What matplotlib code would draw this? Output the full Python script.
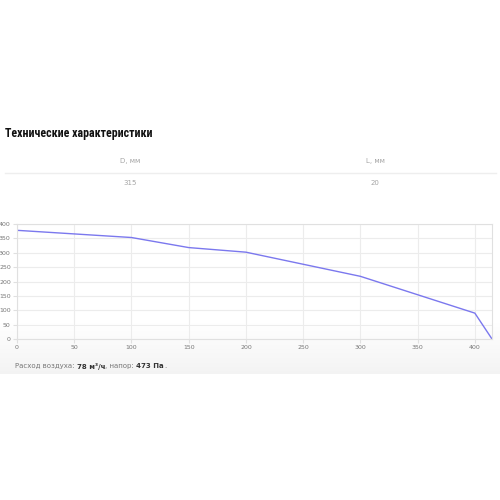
import numpy as np
import matplotlib
matplotlib.use('Agg')
import matplotlib.pyplot as plt
from matplotlib import font_manager

# кривая вентилятора: расход (м3/ч) -> напор (Па)
flow = [0, 100, 150, 200, 300, 400, 415]
pressure = [378, 353, 318, 302, 218, 90, 0]

x_ticks = [0, 50, 100, 150, 200, 250, 300, 350, 400]
y_ticks = [0, 50, 100, 150, 200, 250, 300, 350, 400]

col_names = ['D, мм', 'L, мм']
col_values = ['315', '20']

W, H = 500, 500
fig = plt.figure(figsize=(5, 5), dpi=100)

def fx(px):
    return px / W

def fy(py):
    return 1 - py / H

# узкий шрифт для заголовка, если есть
names = {f.name for f in font_manager.fontManager.ttflist}
narrow = [n for n in ['Liberation Sans Narrow', 'Roboto Condensed', 'DejaVu Sans Condensed'] if n in names]
title_font = font_manager.FontProperties(family=narrow + ['DejaVu Sans'], weight='bold',
                                         stretch='condensed', size=10.5)

# серый градиент под графиком
bg = fig.add_axes([0, fy(374), 1, (374 - 322) / H], zorder=0)
grad = np.linspace(1.0, 0.955, 50).reshape(-1, 1)
bg.imshow(np.dstack([grad, grad, grad]), aspect='auto', extent=[0, 1, 0, 1], origin='upper')
bg.axis('off')

# заголовок и таблица
title = fig.text(fx(5), fy(134), 'Технические характеристики', fontproperties=title_font,
                 va='center', ha='left', color='#111111')
r = fig.canvas.get_renderer()
tw = title.get_window_extent(r).width
if tw > 150:
    title.set_fontsize(10.5 * 148 / tw)

for i, name in enumerate(col_names):
    cx = [130, 375][i]
    fig.text(fx(cx), fy(161), name, fontsize=5, color='#a5a5a5', ha='center', va='center')
    fig.text(fx(cx), fy(183), col_values[i], fontsize=5, color='#a5a5a5', ha='center', va='center')
fig.add_artist(plt.Line2D([fx(5), fx(496)], [fy(173), fy(173)], color='#eeeeee', lw=1))

# график
ax = fig.add_axes([fx(17), fy(339), fx(492 - 17), (339 - 224) / H], zorder=1)
ax.patch.set_alpha(0)
ax.plot(flow, pressure, color='#7b78ee', lw=1)
ax.set_xlim(0, 415)
ax.set_ylim(0, 400)
ax.set_xticks(x_ticks)
ax.set_yticks(y_ticks)
ax.grid(color='#ececec', lw=0.8)
ax.set_axisbelow(True)
for s in ax.spines.values():
    s.set_color('#e0e0e0')
    s.set_linewidth(0.8)
ax.tick_params(labelsize=4.5, labelcolor='#777777', color='#e0e0e0', length=3, width=0.8, pad=1.5)

# подпись снизу
parts = [('Расход воздуха: ', 'normal', '#777777'), ('78 м³/ч', 'bold', '#333333'),
         (', напор: ', 'normal', '#777777'), ('473 Па', 'bold', '#333333'), ('.', 'normal', '#777777')]
x = 15
for txt, w, c in parts:
    t = fig.text(fx(x), fy(366), txt, fontsize=5, fontweight=w, color=c, va='center', ha='left')
    x += t.get_window_extent(r).width

fig.savefig('out.png', dpi=100)
